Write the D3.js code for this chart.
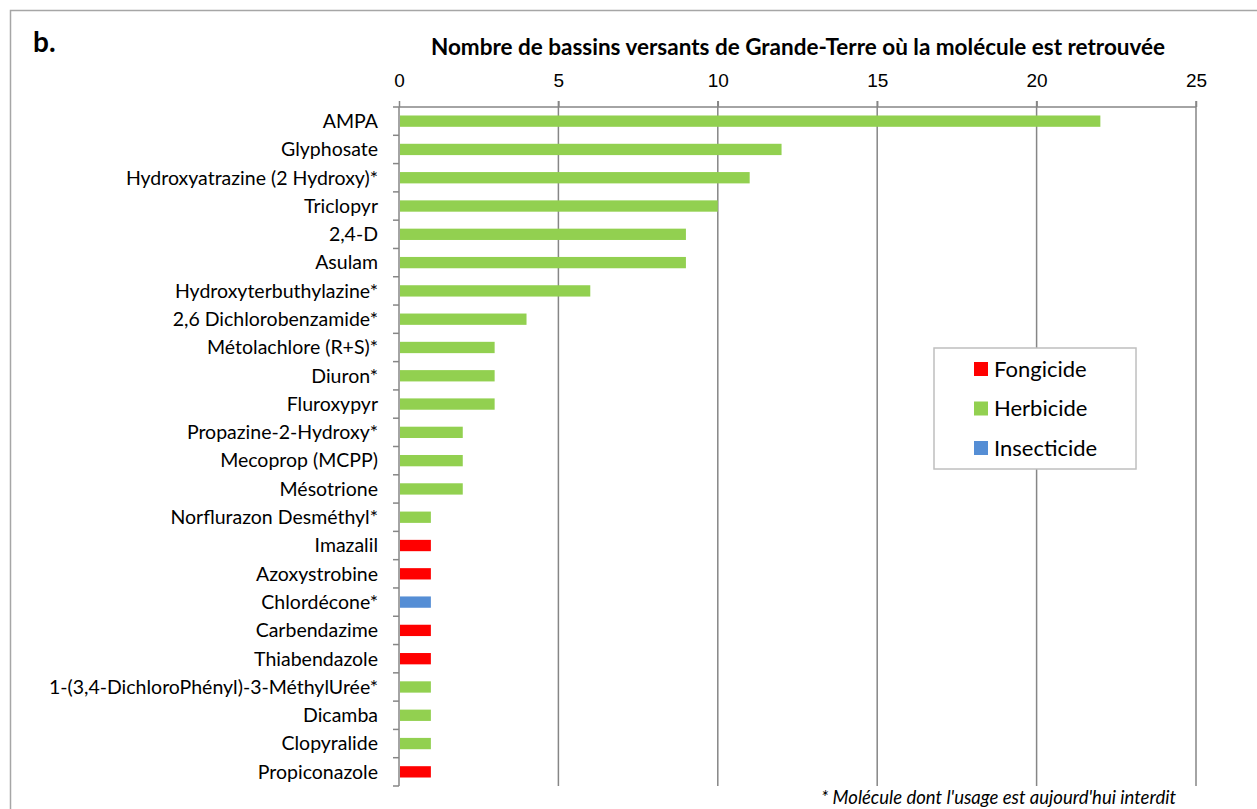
<!DOCTYPE html>
<html>
<head>
<meta charset="utf-8">
<script src="https://cdn.jsdelivr.net/npm/d3@7"></script>
<style>
  body { margin: 0; background: #fff; }
  svg { display: block; font-family: Lato, "Open Sans", sans-serif; }
  .axis path, .axis line { stroke: #868686; stroke-width: 1.5px; }
  .axis text { fill: #000; font-size: 19px; }
</style>
</head>
<body>
<div id="chart"></div>
<script>
const molecules = ['AMPA','Glyphosate','Hydroxyatrazine (2 Hydroxy)*','Triclopyr','2,4-D','Asulam',
  'Hydroxyterbuthylazine*','2,6 Dichlorobenzamide*','Métolachlore (R+S)*','Diuron*','Fluroxypyr',
  'Propazine-2-Hydroxy*','Mecoprop (MCPP)','Mésotrione','Norflurazon Desméthyl*','Imazalil',
  'Azoxystrobine','Chlordécone*','Carbendazime','Thiabendazole','1-(3,4-DichloroPhényl)-3-MéthylUrée*',
  'Dicamba','Clopyralide','Propiconazole'];
const counts = [22,12,11,10,9,9,6,4,3,3,3,2,2,2,1,1,1,1,1,1,1,1,1,1];
const types = ['H','H','H','H','H','H','H','H','H','H','H','H','H','H','H','F','F','I','F','F','H','H','H','F'];
const legendKeys = ['F','H','I'];
const legendLabels = ['Fongicide','Herbicide','Insecticide'];
const xTicks = [0,5,10,15,20,25];

const width = 1257, height = 809;
const margin = {top:107, right:61, bottom:23, left:399};

const color = d3.scaleOrdinal().domain(['F','H','I']).range(['#ff0000','#92d050','#558ed5']);

const svg = d3.select('#chart').append('svg')
  .attr('width', width).attr('height', height);

svg.append('rect')
  .attr('x', 10.5).attr('y', 10.5)
  .attr('width', width + 20).attr('height', height + 20)
  .attr('fill', 'none').attr('stroke', '#a6a6a6').attr('stroke-width', 1.5);

let xScale = d3.scaleLinear().domain([0,25]).range([margin.left, width - margin.right]);
let yScale = d3.scaleBand().domain(molecules)
  .range([margin.top, height - margin.bottom]).paddingInner(0.6).paddingOuter(0.3);
let yBand = d3.scaleBand().domain(molecules).range([margin.top, height - margin.bottom]);

// gridlines
svg.append('g')
  .selectAll('line')
  .data(xTicks.slice(1))
  .enter()
  .append('line')
  .attr('x1', d => xScale(d)).attr('x2', d => xScale(d))
  .attr('y1', margin.top - 6).attr('y2', height - margin.bottom)
  .attr('stroke', '#868686').attr('stroke-width', 1.5);

// top axis
svg.append('g')
  .attr('class', 'axis')
  .attr('transform', `translate(0,${margin.top})`)
  .call(d3.axisTop(xScale).tickValues(xTicks).tickSize(6).tickSizeOuter(0).tickPadding(14))
  .call(g => g.select('.domain').attr('d', `M${xScale(0)},0H${xScale(25)}`));

// left axis with ticks at band edges
let yAxisG = svg.append('g')
  .attr('class', 'axis')
  .attr('transform', `translate(${margin.left},0)`);
yAxisG.append('line')
  .attr('y1', margin.top).attr('y2', height - margin.bottom);
yAxisG.selectAll('.edge')
  .data(d3.range(molecules.length + 1))
  .enter()
  .append('line')
  .attr('class', 'edge')
  .attr('x1', -6).attr('x2', 0)
  .attr('y1', i => margin.top + i * yBand.step())
  .attr('y2', i => margin.top + i * yBand.step());
yAxisG.selectAll('text')
  .data(molecules)
  .enter()
  .append('text')
  .attr('x', -21)
  .attr('y', d => yBand(d) + yBand.bandwidth() / 2)
  .attr('dy', '0.35em')
  .attr('text-anchor', 'end')
  .style('font-size', '19.5px')
  .text(d => d);

// bars
svg.append('g')
  .selectAll('rect')
  .data(molecules)
  .enter()
  .append('rect')
  .attr('x', xScale(0) + 1)
  .attr('y', d => yScale(d))
  .attr('height', yScale.bandwidth())
  .attr('width', (d, i) => xScale(counts[i]) - xScale(0) - 1)
  .attr('fill', (d, i) => color(types[i]));

// titles
svg.append('text')
  .attr('x', 33).attr('y', 52)
  .style('font-size', '28px').style('font-weight', 'bold')
  .text('b.');

svg.append('text')
  .attr('x', 798).attr('y', 55)
  .attr('text-anchor', 'middle')
  .style('font-size', '22.5px').style('font-weight', 'bold')
  .text('Nombre de bassins versants de Grande-Terre où la molécule est retrouvée');

// legend
let legend = svg.append('g').attr('transform', 'translate(934,348)');
legend.append('rect')
  .attr('width', 202).attr('height', 121)
  .attr('fill', '#fff').attr('stroke', '#bfbfbf').attr('stroke-width', 1.5);
let items = legend.selectAll('.item')
  .data(legendKeys)
  .enter()
  .append('g')
  .attr('class', 'item')
  .attr('transform', (d, i) => `translate(40,${21 + i * 39.5})`);
items.append('rect')
  .attr('y', -7).attr('width', 14).attr('height', 14)
  .attr('fill', d => color(d));
items.append('text')
  .attr('x', 20).attr('dy', '0.35em')
  .style('font-size', '22px')
  .text((d, i) => legendLabels[i]);

// footnote
svg.append('text')
  .attr('x', 1176).attr('y', 804)
  .attr('text-anchor', 'end')
  .style('font-size', '18.5px').style('font-style', 'italic')
  .text("* Molécule dont l'usage est aujourd'hui interdit");
</script>
</body>
</html>
